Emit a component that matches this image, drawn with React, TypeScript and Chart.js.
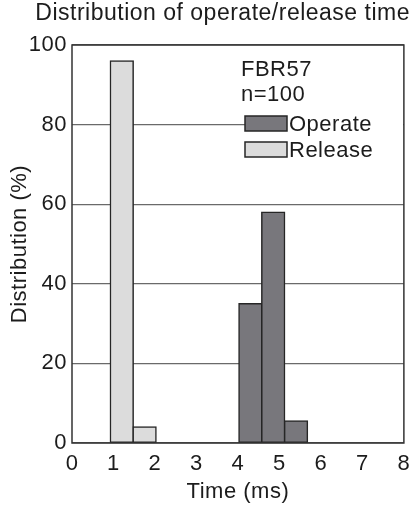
import { useEffect, useRef } from "react";
import { Chart, registerables } from "chart.js";

Chart.register(...registerables);

const titleText = "Distribution of operate/release time";
const xAxisTitle = "Time (ms)";
const yAxisTitle = "Distribution (%)";
const noteLines = ["FBR57", "n=100"];
const seriesNames = ["Operate", "Release"];

const releaseTimes = [1.2, 1.75];
const releaseDist = [96, 4];
const operateTimes = [4.3, 4.85, 5.4];
const operateDist = [35, 58, 5.5];

const xMin = 0;
const xMax = 8;
const xStep = 1;
const yMin = 0;
const yMax = 100;
const yStep = 20;

const FONT = '"Liberation Sans", Arial, Helvetica, sans-serif';
const TEXT = "#1c1c1c";
const OPERATE_FILL = "#78777c";
const RELEASE_FILL = "#dcdcdc";
const EDGE = "#262626";

const annotationPlugin = {
  id: "annotations",
  beforeDraw(chart: any) {
    chart.ctx.letterSpacing = "0.5px";
  },
  afterDatasetsDraw(chart: any) {
    const { ctx, chartArea } = chart;
    const { left, top } = chartArea;
    ctx.save();
    ctx.letterSpacing = "0.5px";
    ctx.font = `22px ${FONT}`;
    ctx.fillStyle = TEXT;
    ctx.textAlign = "left";
    ctx.textBaseline = "middle";
    ctx.fillText(noteLines[0], left + 169, top + 25);
    ctx.fillText(noteLines[1], left + 169, top + 50);

    const fills = [OPERATE_FILL, RELEASE_FILL];
    const boxX = left + 173;
    const boxW = 42;
    const boxH = 15;
    const bgW = 158;
    const rowTops = [top + 71, top + 97];
    // white background behind the legend rows (interrupts the gridline)
    ctx.fillStyle = "#ffffff";
    ctx.fillRect(boxX, rowTops[0] + 1, bgW, boxH);
    for (let i = 0; i < 2; i++) {
      ctx.fillStyle = fills[i];
      ctx.fillRect(boxX, rowTops[i], boxW, boxH);
      ctx.strokeStyle = EDGE;
      ctx.lineWidth = 1.5;
      ctx.strokeRect(boxX, rowTops[i], boxW, boxH);
      ctx.fillStyle = TEXT;
      ctx.fillText(seriesNames[i], boxX + boxW + 2, rowTops[i] + boxH / 2 + 1);
    }
    ctx.restore();
  },
  afterDraw(chart: any) {
    const { ctx, chartArea } = chart;
    ctx.save();
    ctx.strokeStyle = "#333333";
    ctx.lineWidth = 1.5;
    ctx.strokeRect(
      chartArea.left,
      chartArea.top,
      chartArea.right - chartArea.left,
      chartArea.bottom - chartArea.top
    );
    ctx.restore();
  },
};

export default function App() {
  const canvasRef = useRef<HTMLCanvasElement | null>(null);

  useEffect(() => {
    document.body.style.margin = "0";
    const canvas = canvasRef.current;
    if (!canvas) return;
    const chart = new Chart(canvas, {
      type: "bar",
      data: {
        datasets: [
          {
            label: seriesNames[0],
            data: operateTimes.map((x, i) => ({ x, y: operateDist[i] })),
            backgroundColor: OPERATE_FILL,
            borderColor: EDGE,
            borderWidth: 1.5,
            borderSkipped: false,
            inflateAmount: 0.75,
          },
          {
            label: seriesNames[1],
            data: releaseTimes.map((x, i) => ({ x, y: releaseDist[i] })),
            backgroundColor: RELEASE_FILL,
            borderColor: EDGE,
            borderWidth: 1.5,
            borderSkipped: false,
            inflateAmount: 0.75,
          },
        ],
      },
      options: {
        responsive: false,
        animation: false,
        devicePixelRatio: 1,
        grouped: false,
        barPercentage: 1,
        categoryPercentage: 1,
        layout: { padding: { left: 0, right: 8, top: 0, bottom: 0 } },
        plugins: {
          legend: { display: false },
          tooltip: { enabled: false },
          title: {
            display: true,
            text: titleText,
            align: "end",
            color: TEXT,
            font: { family: FONT, size: 23, weight: "normal" },
            padding: { top: 0, bottom: 17.4 },
          },
        },
        scales: {
          x: {
            type: "linear",
            min: xMin,
            max: xMax,
            offset: false,
            grid: { display: false, offset: false, drawTicks: false },
            border: { display: false },
            ticks: {
              stepSize: xStep,
              padding: 8,
              color: TEXT,
              font: { family: FONT, size: 22 },
              maxRotation: 0,
            },
            title: {
              display: true,
              text: xAxisTitle,
              color: TEXT,
              font: { family: FONT, size: 22 },
              padding: { top: 0, bottom: 4 },
            },
            afterFit(scale: any) {
              scale.height = 66;
            },
          },
          y: {
            min: yMin,
            max: yMax,
            grid: { color: "#6a6a6a", lineWidth: 1.3, drawTicks: false },
            border: { display: false },
            ticks: {
              stepSize: yStep,
              padding: 5,
              color: TEXT,
              font: { family: FONT, size: 22 },
            },
            title: {
              display: true,
              text: yAxisTitle,
              color: TEXT,
              font: { family: FONT, size: 22 },
              padding: { top: 7, bottom: 0 },
            },
            afterFit(scale: any) {
              scale.width = 72;
            },
          },
        },
      },
      plugins: [annotationPlugin],
    } as any);
    return () => chart.destroy();
  }, []);

  return (
    <div style={{ width: 418, height: 509 }}>
      <canvas ref={canvasRef} width={418} height={509} />
    </div>
  );
}
